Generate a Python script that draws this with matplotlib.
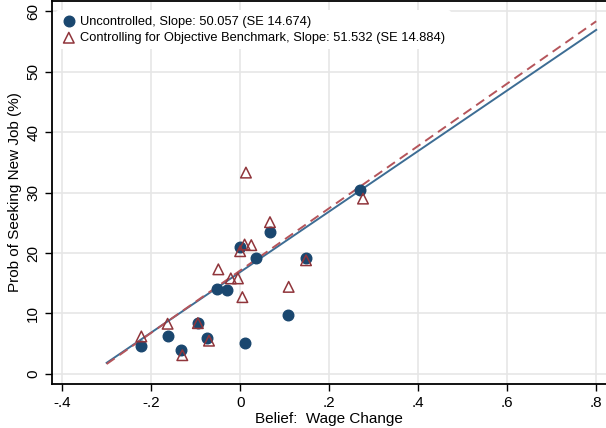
import numpy as np
import matplotlib.pyplot as plt

plt.rcParams['font.family'] = ['Liberation Sans', 'DejaVu Sans']

# binned points, uncontrolled
x_unc = [-0.223, -0.162, -0.132, -0.095, -0.074, -0.052, -0.029, -0.001, 0.011, 0.036, 0.067, 0.107, 0.148, 0.270]
y_unc = [4.6, 6.2, 3.9, 8.5, 6.0, 14.0, 13.8, 21.0, 5.1, 19.2, 23.4, 9.8, 19.2, 30.4]

# binned points, controlling for benchmark
x_ctl = [-0.222, -0.163, -0.130, -0.095, -0.070, -0.049, -0.021, -0.005, 0.005, 0.000, 0.010, 0.025, 0.013, 0.067, 0.109, 0.148, 0.276]
y_ctl = [6.2, 8.3, 3.1, 8.4, 5.5, 17.3, 15.8, 15.8, 12.7, 20.3, 21.4, 21.3, 33.3, 25.1, 14.4, 18.8, 29.0]

# fitted lines
slope_unc, icpt_unc = 50.057, 16.85
slope_ctl, icpt_ctl = 51.532, 17.10
x_fit = [-0.3, 0.8]

navy = '#1a476f'
maroon = '#90353b'

fig = plt.figure(figsize=(6.06, 4.28), dpi=100)
ax = fig.add_axes([0.086, 0.103, 0.914, 0.895])

xf = np.array(x_fit)
ax.plot(xf, icpt_unc + slope_unc * xf, color='#3d6d94', lw=1.4, zorder=3)
ax.plot(xf, icpt_ctl + slope_ctl * xf, color='#b5555b', lw=1.4, ls=(0, (5, 3)), zorder=3)

ax.scatter(x_unc, y_unc, s=58, color=navy, zorder=4,
           label='Uncontrolled, Slope: 50.057 (SE 14.674)')
ax.scatter(x_ctl, y_ctl, s=58, marker='^', facecolors='none', edgecolors=maroon,
           linewidths=1.1, zorder=5,
           label='Controlling for Objective Benchmark, Slope: 51.532 (SE 14.884)')

ax.set_xlim(-0.4225, 0.822)
ax.set_ylim(-1.65, 61.7)
xt = [-0.4, -0.2, 0, 0.2, 0.4, 0.6, 0.8]
ax.set_xticks(xt)
ax.set_xticklabels(['-.4', '-.2', '0', '.2', '.4', '.6', '.8'], fontsize=11)
ax.set_yticks(range(0, 61, 10))
ax.set_yticklabels([str(v) for v in range(0, 61, 10)], fontsize=11, rotation=90, va='center')
ax.grid(True, color='#e6e6e6', lw=1.2)
ax.set_axisbelow(True)
ax.tick_params(direction='out', length=5, width=1)
ax.spines['right'].set_visible(False)
for s in ['left', 'bottom', 'top']:
    ax.spines[s].set_linewidth(1.3)

ax.set_xlabel('Belief:  Wage Change', fontsize=11, labelpad=2)
ax.set_ylabel('Prob of Seeking New Job (%)', fontsize=11, labelpad=3)

leg = ax.legend(loc='upper left', bbox_to_anchor=(0.0, 0.985), frameon=True, fontsize=9.25,
                handletextpad=0.3, borderaxespad=0.3, labelspacing=0.35,
                handlelength=1.2, scatterpoints=1)
leg.get_frame().set_edgecolor('none')
leg.get_frame().set_facecolor('white')
leg.get_frame().set_alpha(1)

fig.savefig('out.png', dpi=100)
